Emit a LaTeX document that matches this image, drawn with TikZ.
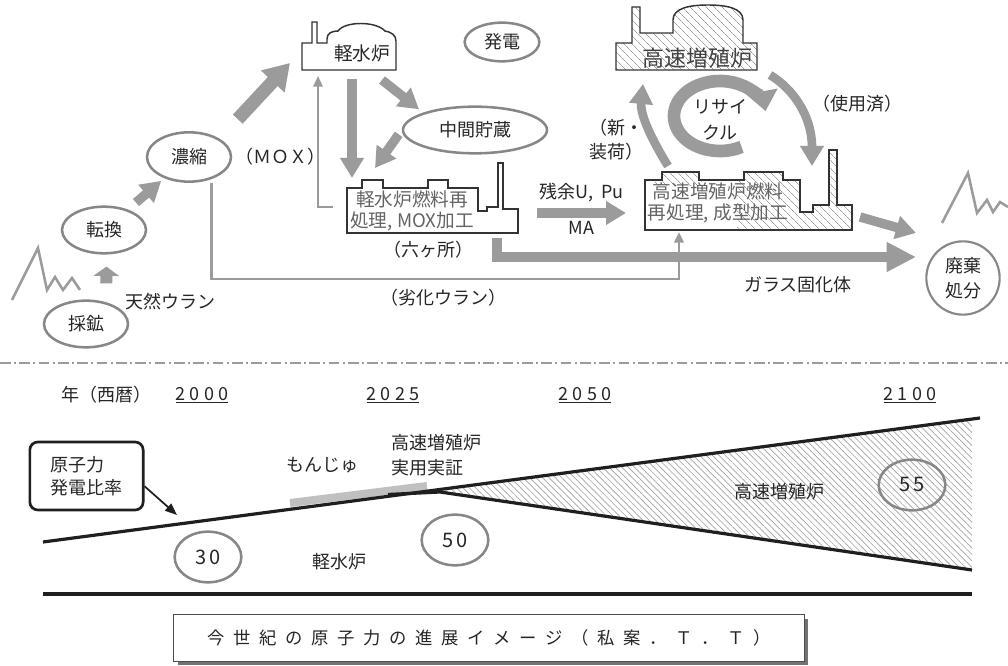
\documentclass[tikz,border=0pt]{standalone}
\usepackage{fontspec}
\setmainfont{Noto Sans CJK JP}
\usepackage{xcolor}
\usepackage{tikz}
\usetikzlibrary{arrows.meta, positioning, shapes.geometric, patterns.meta, shadows}

\definecolor{flowgray}{RGB}{155,155,155}
\definecolor{ringgray}{RGB}{135,135,135}
\definecolor{inkgray}{RGB}{100,100,100}
\definecolor{monjugray}{RGB}{192,192,192}
\definecolor{hatchgray}{RGB}{160,160,160}

\begin{document}
\begin{tikzpicture}[
    x=0.75pt, y=-0.75pt,
    font=\fontsize{13.5}{17}\selectfont,
    stage/.style={ellipse, draw=ringgray, line width=1.9pt, inner sep=0pt, minimum width=63pt, minimum height=35pt, text=black!85},
    share/.style={ellipse, draw=ringgray, line width=1.9pt, inner sep=0pt, minimum width=50pt, minimum height=38pt, font=\fontsize{15}{17}\selectfont\addfontfeatures{LetterSpace=12}, text=black!85},
    plant/.style={draw=black!80, line width=1.1pt, fill=white},
    hatched/.style={pattern={Lines[angle=-45, distance=4pt, line width=0.5pt]}, pattern color=hatchgray},
    plantlabel/.style={inner sep=1pt, font=\fontsize{14}{16}\selectfont, text=inkgray, align=center},
    note/.style={inner sep=1pt, text=black!85},
    year/.style={inner sep=1pt, text=black!85, font=\fontsize{13.5}{16}\selectfont\addfontfeatures{LetterSpace=24}},
    flow/.style={draw=flowgray, line width=7pt, -{Triangle[width=17pt, length=15pt]}},
    bigflow/.style={draw=flowgray, line width=10pt, -{Triangle[width=23pt, length=19pt]}},
    stubflow/.style={draw=flowgray, line width=9pt, -{Triangle[width=19pt, length=7pt]}},
    thinflow/.style={draw=flowgray, line width=2pt, -{Triangle[width=7pt, length=8pt]}},
    cycleflow/.style={draw=flowgray, line width=9.5pt, -{Triangle[width=23pt, length=15pt]}},
    rateline/.style={draw=black!88, line width=2.4pt},
    pointer/.style={draw=black!88, line width=1.3pt, -{Triangle[width=7pt, length=9pt]}}
]
\useasboundingbox (0,0) rectangle (1008,666);

% Mountains
\draw[flowgray, line width=1.9pt] (12,300) -- (38,248) -- (47,290) -- (55,277) -- (63,290) -- (72,278) -- (80,290);
\draw[flowgray, line width=1.9pt] (942,223) -- (968,173) -- (977,213) -- (987,200) -- (993,212) -- (1000,202) -- (1008,207);

% Front end
\node[stage] (mine) at (86,324) {採鉱};
\node[stage] (convert) at (104,230) {転換};
\node[stage, minimum height=37pt] (enrich) at (189,157) {濃縮};
\node[note, right=1pt of enrich] (mox) {（ＭＯＸ）};
\node[note] (natural) at (170,302) {天然ウラン};

% Light water reactor
\draw[plant] (302,70) -- (302,43) -- (312,43) -- (312,22) -- (317,22) -- (317,43) -- (327,43)
  -- (327,39) .. controls (327,33) and (332,31) .. (338,31) .. controls (345,21) and (376,21) .. (385,31)
  .. controls (391,32) and (396,35) .. (396,41) -- (396,70) -- cycle;
\node[plantlabel, text=black!85] (lwr) at (362,53) {軽水炉};

\node[stage, minimum width=56pt, minimum height=29pt] (power) at (502,42) {発電};
\node[stage, minimum width=108pt] (storage) at (475,130) {中間貯蔵};

% LWR reprocessing plant
\draw[plant] (347,233) -- (347,188) -- (362,188) -- (362,180) -- (383,180) -- (383,188) -- (428,188)
  -- (428,180) -- (448,180) -- (448,188) -- (478,188) -- (478,211) -- (487,211) -- (487,207) -- (498,207)
  -- (498,163) -- (503,163) -- (503,209) -- (518,209) -- (518,233) -- cycle;
\node[plantlabel] (lwrproc) at (412,211) {軽水炉燃料再\\処理, MOX加工};
\node[note] (rokkasho) at (428,250) {（六ヶ所）};

% Fast breeder reactor
\draw[plant, hatched] (616,70) -- (616,43) -- (632,43) -- (632,7) -- (640,7) -- (640,33) -- (673,33)
  -- (673,20) .. controls (673,8) and (690,5) .. (708,5) .. controls (726,5) and (743,8) .. (743,20)
  -- (743,43) -- (757,43) -- (757,70) -- cycle;
\node[plantlabel, font=\fontsize{16.5}{19}\selectfont, text=black!75] (fbr) at (697,58) {高速増殖炉};

% FBR reprocessing plant
\draw[plant, path picture={
    \fill[hatched] (737,140) rectangle (860,235);
    \fill[hatched] (655,165) rectangle (702,186);}]
  (645,230) -- (645,180) -- (662,180) -- (662,172) -- (699,172) -- (699,180) -- (744,180) -- (744,172)
  -- (783,172) -- (783,180) -- (800,180) -- (800,212) -- (813,212) -- (813,205) -- (829,205) -- (829,150)
  -- (837,150) -- (837,205) -- (852,205) -- (852,230) -- cycle;
\node[plantlabel, font=\fontsize{14}{15.5}\selectfont] (fbrproc) at (718,203) {高速増殖炉燃料\\再処理, 成型加工};

\node[circle, draw=ringgray, line width=1.6pt, minimum size=55pt, inner sep=0pt, align=center,
  font=\fontsize{13.5}{18.5}\selectfont, text=black!85] (disposal) at (963,278) {廃棄\\処分};

% Connector ends
\coordinate (lwrfeed) at (290,63);
\coordinate (lwrdrop) at (352,79);
\coordinate (lwrprocin) at (352,178);
\coordinate (lwrout) at (382,80);
\coordinate (lwrprocside) at (375,168);
\coordinate (moxret) at (333,207);
\coordinate (lwrbase) at (318,76);
\coordinate (lwrexit) at (537,213);
\coordinate (fbrentry) at (626,213);
\coordinate (glassout) at (497,238);
\coordinate (glassin) at (916,257);
\coordinate (fbrexit) at (860,217);
\coordinate (disposalin) at (916,233);
\coordinate (fbrfeed) at (679,232);
\coordinate (cyc) at (720,116);

% Flows
\draw[stubflow, shorten <=12pt, shorten >=9pt] ([xshift=15pt]mine.north) -- ([xshift=2pt]convert.south);
\draw[flow, shorten <=8pt, shorten >=3pt] (convert) -- (enrich);
\draw[bigflow, shorten <=20pt] (enrich.north east) -- (lwrfeed);
\draw[flow] (lwrdrop) -- (lwrprocin);
\draw[flow, shorten >=4pt] (lwrout) -- (storage.north west);
\draw[flow, shorten <=4pt] (storage.west) -- (lwrprocside);
\draw[thinflow, line width=1.6pt] (moxret) -| (lwrbase);
\draw[flow] (lwrexit) -- node[note, above=4pt] {残余U,\ \ Pu} node[note, below=2pt] {MA} (fbrentry);
\draw[flow, -{Triangle[width=21pt, length=22pt]}] (glassout) |- (glassin);
\draw[flow] (fbrexit) -- (disposalin);
\draw[thinflow] ([xshift=17pt]enrich.south) -- ++(0,96) -| (fbrfeed);

% Recycle loop
\draw[cycleflow] (cyc) ++(62:46 and 35) arc[start angle=62, end angle=352, x radius=46, y radius=35];
\node[note, align=center, font=\fontsize{13.5}{19}\selectfont] (recycle) at (720,120) {リサイ\\クル};
\draw[flow, line width=6.5pt] (668,166) .. controls (652,140) and (640,115) .. (643,84);
\draw[flow, line width=6.5pt] (770,75) .. controls (792,88) and (812,115) .. (812,166);
\node[note, align=center, font=\fontsize{13.5}{18}\selectfont] (fresh) at (616,140) {（新・\\装荷）};
\node[note] (spent) at (857,104) {（使用済）};

\node[note] (depleted) at (443,298) {（劣化ウラン）};
\node[note] (glass) at (798,285) {ガラス固化体};

% Separator
\draw[flowgray, line width=1pt, dash pattern=on 8pt off 2.5pt on 1.5pt off 2.5pt] (0,363) -- (1008,363);

% Timeline
\node[note] (era) at (106,395) {年（西暦）};
\node[year] (y2000) at (202,395) {\underline{2000}};
\node[year] (y2025) at (393,395) {\underline{2025}};
\node[year] (y2050) at (585,395) {\underline{2050}};
\node[year] (y2100) at (910,395) {\underline{2100}};

\fill[pattern={Lines[angle=-45, distance=3.4pt, line width=0.5pt]}, pattern color=hatchgray]
  (438,489.7) -- (972,419.2) -- (972,570) -- (445,492) -- cycle;
\draw[monjugray, line width=6pt] (290,503) -- (427,486);
\draw[rateline] (43,542) -- (980,418);
\draw[rateline] (388,494.5) -- (440,492) -- (972,570);
\draw[rateline, line width=2.6pt] (43,594) -- (972,594);

\node[draw=black!88, line width=2pt, rounded corners=6pt, minimum width=85pt, minimum height=51pt,
  align=left, font=\fontsize{13.5}{17}\selectfont, text=black!85] (ratebox) at (86.5,476) {原子力\\発電比率};
\coordinate (ratetip) at (177,515);
\draw[pointer] (ratebox.-10) -- (ratetip);

\node[note] (monju) at (322,465) {もんじゅ};
\node[note, align=left, font=\fontsize{13.5}{18.5}\selectfont] (demo) at (436,455) {高速増殖炉\\実用実証};
\node[note] (lwrshare) at (339,562) {軽水炉};
\node[note] (fbrshare) at (779,492) {高速増殖炉};

\node[share] (share30) at (208,557) {30};
\node[share] (share50) at (455,540) {50};
\node[share] (share55) at (912,485) {55};

% Caption
\node[draw=black!70, line width=0.8pt, fill=white, minimum width=473pt, minimum height=35pt,
  drop shadow={shadow xshift=3pt, shadow yshift=-3pt, fill=black!55, opacity=1},
  font=\fontsize{13}{16}\selectfont\addfontfeatures{LetterSpace=50}, text=black!85] (caption) at (489,638)
  {今世紀の原子力の進展イメージ（私案．Ｔ．Ｔ）};

\end{tikzpicture}
\end{document}
